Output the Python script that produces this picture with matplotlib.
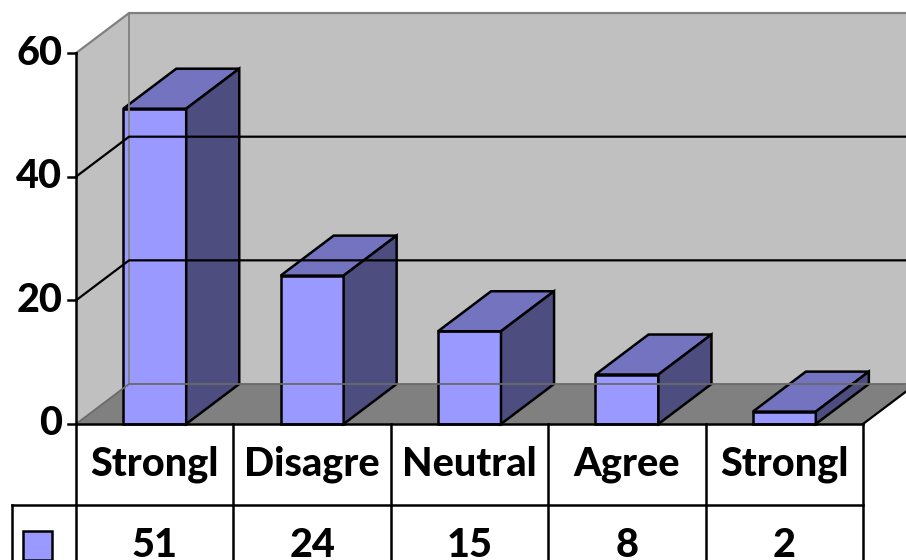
import matplotlib.pyplot as plt
from matplotlib.patches import Polygon, Rectangle

# data
categories = ["Strongl", "Disagre", "Neutral", "Agree", "Strongl"]
values = [51, 24, 15, 8, 2]
y_ticks = [0, 20, 40, 60]

# colours (excel 2003 style)
FRONT = "#9999ff"
TOP = "#7373bf"
SIDE = "#4d4d80"
WALL = "#c0c0c0"
FLOOR = "#808080"
EDGE = "#808080"

DX, DY = 0.337, 6.47   # depth offset, data units
BAR_W = 0.4
ROW_H = 13.1
LEG_X = -0.407
FS = 28.5

plt.rcParams['font.family'] = ['Lato', 'DejaVu Sans']

fig = plt.figure(figsize=(9.06, 5.6), dpi=100)
ax = fig.add_axes([0, 0, 1, 1])
ax.set_xlim(-0.483, 5.273)
ax.set_ylim(-22.0, 68.58)
ax.axis("off")

n = len(categories)
ymax = y_ticks[-1]
xr = n + DX + 0.5

# back wall, left wall, floor
ax.add_patch(Polygon([(DX, DY), (xr, DY), (xr, ymax + DY), (DX, ymax + DY)], fc=WALL, ec="none"))
ax.add_patch(Polygon([(0, 0), (DX, DY), (DX, ymax + DY), (0, ymax)], fc=WALL, ec="none"))
ax.add_patch(Polygon([(0, 0), (n, 0), (n + DX, DY), (DX, DY)], fc=FLOOR, ec="none"))

# wall edges
ax.plot([0, DX, xr], [ymax, ymax + DY, ymax + DY], color=EDGE, lw=1.6)
ax.plot([DX, DX], [DY, ymax + DY], color=EDGE, lw=1.3)
ax.plot([0, DX, xr], [0, DY, DY], color="#6a6a6a", lw=1.3)
ax.plot([n, n + DX], [0, DY], color="black", lw=1.6)

# gridlines
for v in y_ticks[1:-1]:
    ax.plot([0, DX, xr], [v, v + DY, v + DY], color="black", lw=1.6)

# bars
for i, v in enumerate(values):
    x0 = i + (1 - BAR_W) / 2
    x1 = x0 + BAR_W
    kw = dict(ec="black", lw=1.8, joinstyle="miter")
    ax.add_patch(Polygon([(x0, 0), (x1, 0), (x1, v), (x0, v)], fc=FRONT, **kw))
    ax.add_patch(Polygon([(x0, v), (x1, v), (x1 + DX, v + DY), (x0 + DX, v + DY)], fc=TOP, **kw))
    ax.add_patch(Polygon([(x1, 0), (x1 + DX, DY), (x1 + DX, v + DY), (x1, v)], fc=SIDE, **kw))

# value axis
ax.plot([0, 0], [0, ymax], color="black", lw=1.8)
for v in y_ticks:
    ax.plot([-0.05, 0], [v, v], color="black", lw=1.8)
    ax.text(-0.088, v, str(v), ha="right", va="center", fontsize=FS, fontweight="black")

# data table
bottom = -22.0
ax.plot([0, n], [0, 0], color="black", lw=1.8)
ax.plot([LEG_X, n], [-ROW_H, -ROW_H], color="black", lw=1.8)
ax.plot([LEG_X, LEG_X], [-ROW_H, bottom], color="black", lw=1.8)
for i in range(n + 1):
    ax.plot([i, i], [0, bottom], color="black", lw=1.8)
for i, (c, v) in enumerate(zip(categories, values)):
    ax.text(i + 0.5, -ROW_H / 2, c, ha="center", va="center", fontsize=FS, fontweight="black")
    ax.text(i + 0.5, -1.5 * ROW_H, str(v), ha="center", va="center", fontsize=FS, fontweight="black")
ax.add_patch(Rectangle((-0.337, -1.5 * ROW_H - 2.35), 0.184, 4.7, fc=FRONT, ec="black", lw=1.8))

fig.savefig("out.png", dpi=100)
